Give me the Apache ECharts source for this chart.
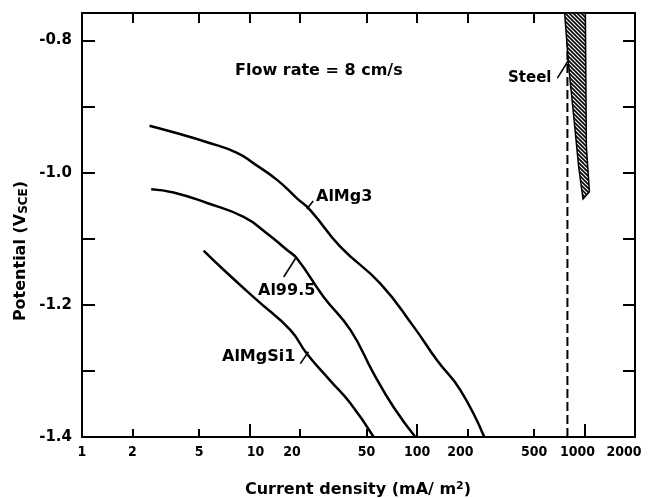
<!DOCTYPE html>
<html>
<head>
<meta charset="utf-8">
<script src="https://cdn.jsdelivr.net/npm/echarts@6/dist/echarts.min.js"></script>
<style>
  html, body { margin: 0; padding: 0; background: #fff; }
  #chart { width: 650px; height: 498px; }
</style>
</head>
<body>
<div id="chart"></div>
<script>
// 电流密度 (mA/m2) 与电位 (V SCE)
const alMg3X = [2.53, 3.52, 5.58, 8.42, 10.58, 14.6, 19.2, 23.1, 34.8, 60.4, 95.4, 131.6, 181.4, 252];
const alMg3Y = [-0.929, -0.939, -0.954, -0.970, -0.986, -1.011, -1.039, -1.057, -1.112, -1.168, -1.233, -1.284, -1.329, -1.4];

const al995X = [2.59, 3.52, 5.58, 9.22, 12.72, 16.75, 19.2, 27.7, 40.0, 55.1, 72.5, 97.7];
const al995Y = [-1.025, -1.030, -1.046, -1.067, -1.092, -1.117, -1.130, -1.188, -1.238, -1.304, -1.355, -1.4];

const alMgSi1X = [5.32, 7.0, 11.08, 17.5, 22.0, 30.4, 40.0, 55.1];
const alMgSi1Y = [-1.118, -1.147, -1.193, -1.238, -1.274, -1.315, -1.349, -1.4];

// 钢的阴影区域 (多边形顶点) 和虚线
const steelX = [760, 804, 881, 922, 979, 1069, 1025, 1020, 1011];
const steelY = [-0.7585, -0.839, -0.94, -0.991, -1.040, -1.029, -0.96, -0.89, -0.7585];
const steelLineX = [790, 790];
const steelLineY = [-1.4, -0.7585];

// 标注引线
const leaders = [
    { x: [22.0, 24.0], y: [-1.055, -1.043] },     // AlMg3
    { x: [18.8, 16.0], y: [-1.130, -1.158] },     // Al99.5
    { x: [20.1, 22.5], y: [-1.289, -1.271] },     // AlMgSi1
    { x: [688, 823], y: [-0.857, -0.8255] }       // Steel
];

// 刻度
const xLabelValues = [1, 2, 5, 10, 20, 50, 100, 200, 500, 1000, 2000];
const xMinorTicks = [2, 5, 20, 50, 200, 500];
const xMajorTicks = [10, 100, 1000];
const yTickValues = [-1.4, -1.3, -1.2, -1.1, -1.0, -0.9, -0.8];
const yLabelValues = [-1.4, -1.2, -1.0, -0.8];

const X_MIN = 1, X_MAX = 2000;
const Y_MIN = -1.4, Y_MAX = -0.7585;

const FONT = '"DejaVu Sans Condensed", "DejaVu Sans", sans-serif';
const FONT_WIDE = '"DejaVu Sans", sans-serif';

const lg = v => Math.log10(v);
const pairs = (xs, ys) => xs.map((x, i) => [lg(x), ys[i]]);

// 个别刻度标签在原图中略有偏移
const labelShift = { 10: 6, 20: -8, 200: -7, 1000: -7, 2000: -11 };
const richShift = {};
Object.keys(labelShift).forEach(k => {
    const s = labelShift[k];
    richShift['s' + k] = { padding: s > 0 ? [0, 0, 0, 2 * s] : [0, -2 * s, 0, 0] };
});

// 斜线填充
const hatch = document.createElement('canvas');
hatch.width = 4;
hatch.height = 4;
const hctx = hatch.getContext('2d');
hctx.fillStyle = '#fff';
hctx.fillRect(0, 0, 4, 4);
hctx.strokeStyle = '#000';
hctx.lineWidth = 1.6;
hctx.beginPath();
hctx.moveTo(-1, -1); hctx.lineTo(5, 5);
hctx.moveTo(3, -1); hctx.lineTo(5, 1);
hctx.moveTo(-1, 3); hctx.lineTo(1, 5);
hctx.stroke();

const chart = echarts.init(document.getElementById('chart'));

// onZero 关掉，否则右侧 y 轴会跑到 x=0 (即左边)
const axisLine = { show: true, onZero: false, lineStyle: { color: '#000', width: 2 } };

// 刻度朝内
const ticks = (len, values) => ({
    show: true,
    inside: true,
    length: len,
    customValues: values,
    lineStyle: { color: '#000', width: 2 }
});

const curve = (name, xs, ys) => ({
    name: name,
    type: 'line',
    data: pairs(xs, ys),
    symbol: 'none',
    smooth: 0.5,
    lineStyle: { color: '#000', width: 2.5 },
    z: 3
});

const series = [
    curve('AlMg3', alMg3X, alMg3Y),
    curve('Al99.5', al995X, al995Y),
    curve('AlMgSi1', alMgSi1X, alMgSi1Y),
    {
        name: 'SteelLine',
        type: 'line',
        data: pairs(steelLineX, steelLineY),
        symbol: 'none',
        lineStyle: { color: '#000', width: 2, type: [9, 4] },
        z: 2
    },
    {
        name: 'Steel',
        type: 'custom',
        coordinateSystem: 'cartesian2d',
        data: pairs(steelX, steelY),
        encode: { x: 0, y: 1 },
        clip: false,
        renderItem: function (params, api) {
            if (params.dataIndex !== 0) return;
            const pts = steelX.map((x, i) => api.coord([lg(x), steelY[i]]));
            return {
                type: 'polygon',
                shape: { points: pts },
                style: { fill: { image: hatch, repeat: 'repeat' }, stroke: '#000', lineWidth: 1.5 }
            };
        },
        z: 4
    }
];

leaders.forEach(l => {
    series.push({
        type: 'line',
        data: pairs(l.x, l.y),
        symbol: 'none',
        lineStyle: { color: '#000', width: 1.6 },
        z: 3
    });
});

const textStyle = (size, font) => ({
    font: 'bold ' + size + 'px ' + (font || FONT_WIDE),
    fill: '#000'
});

const option = {
    animation: false,
    backgroundColor: '#fff',
    grid: { left: 82, right: 15, top: 13, bottom: 61, containLabel: false },
    xAxis: [
        {
            type: 'value',
            position: 'bottom',
            min: lg(X_MIN),
            max: lg(X_MAX),
            axisLine: axisLine,
            splitLine: { show: false },
            axisTick: ticks(8, xMinorTicks.map(lg)),
            axisLabel: {
                show: true,
                customValues: xLabelValues.map(lg),
                margin: 8,
                color: '#000',
                fontFamily: FONT,
                fontWeight: 'bold',
                fontSize: 14,
                formatter: function (v) {
                    const n = Math.round(Math.pow(10, v));
                    return labelShift[n] ? '{s' + n + '|' + n + '}' : String(n);
                },
                rich: richShift
            }
        },
        {
            type: 'value',
            position: 'bottom',
            min: lg(X_MIN),
            max: lg(X_MAX),
            axisLine: { show: false, onZero: false },
            splitLine: { show: false },
            axisLabel: { show: false },
            axisTick: ticks(13, xMajorTicks.map(lg))
        },
        {
            type: 'value',
            position: 'top',
            min: lg(X_MIN),
            max: lg(X_MAX),
            axisLine: axisLine,
            splitLine: { show: false },
            axisLabel: { show: false },
            axisTick: ticks(10, xMinorTicks.concat(xMajorTicks).map(lg))
        }
    ],
    yAxis: [
        {
            type: 'value',
            position: 'left',
            min: Y_MIN,
            max: Y_MAX,
            axisLine: axisLine,
            splitLine: { show: false },
            axisTick: ticks(13, yTickValues),
            axisLabel: {
                customValues: yLabelValues,
                margin: 10,
                color: '#000',
                fontFamily: FONT_WIDE,
                fontWeight: 'bold',
                fontSize: 15,
                formatter: v => v.toFixed(1)
            }
        },
        {
            type: 'value',
            position: 'right',
            min: Y_MIN,
            max: Y_MAX,
            axisLine: axisLine,
            splitLine: { show: false },
            axisLabel: { show: false },
            axisTick: ticks(12, yTickValues)
        }
    ],
    graphic: [
        {
            type: 'text', left: 235, top: 63,
            style: Object.assign({ text: 'Flow rate = 8 cm/s' }, textStyle(16))
        },
        {
            type: 'text', left: 508, top: 71,
            style: Object.assign({ text: 'Steel' }, textStyle(15))
        },
        {
            type: 'text', left: 316, top: 189,
            style: Object.assign({ text: 'AlMg3' }, textStyle(16))
        },
        {
            type: 'text', left: 258, top: 283,
            style: Object.assign({ text: 'Al99.5' }, textStyle(16))
        },
        {
            type: 'text', left: 222, top: 349,
            style: Object.assign({ text: 'AlMgSi1' }, textStyle(16))
        },
        {
            type: 'text',
            x: 358, y: 490,
            style: {
                text: 'Current density (mA/ m{sup|2})',
                font: 'bold 16px ' + FONT_WIDE,
                fill: '#000',
                align: 'center',
                verticalAlign: 'middle',
                rich: {
                    sup: { fontSize: 11, fontWeight: 'bold', fontFamily: FONT_WIDE, verticalAlign: 'top', lineHeight: 18 }
                }
            }
        },
        {
            type: 'text',
            x: 21, y: 251,
            rotation: Math.PI / 2,
            style: {
                text: 'Potential (V{sub|SCE})',
                font: 'bold 16px ' + FONT_WIDE,
                fill: '#000',
                align: 'center',
                verticalAlign: 'middle',
                rich: {
                    sub: { fontSize: 12, fontWeight: 'bold', fontFamily: FONT_WIDE, verticalAlign: 'bottom', lineHeight: 18 }
                }
            }
        }
    ],
    series: series
};

chart.setOption(option);
</script>
</body>
</html>
